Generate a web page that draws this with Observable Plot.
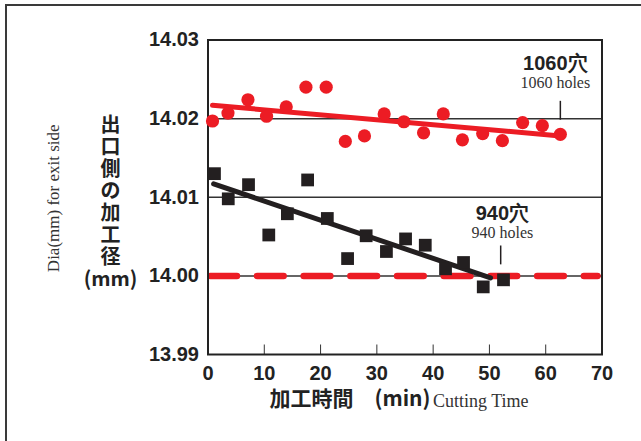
<!DOCTYPE html>
<html>
<head>
<meta charset="utf-8">
<script src="https://cdn.jsdelivr.net/npm/d3@7"></script>
<script src="https://cdn.jsdelivr.net/npm/@observablehq/plot@0.6"></script>
<style>
  html, body { margin: 0; padding: 0; background: #fff; }
  #wrap { position: relative; width: 641px; height: 441px; overflow: hidden; }
  #border { position: absolute; left: 5px; top: 4px; width: 700px; height: 500px;
            border-left: 2px solid #3a3a3a; border-top: 2px solid #3a3a3a; }
  #chart { position: absolute; left: 0; top: 0; }
</style>
</head>
<body>
<div id="wrap"><div id="border"></div><div id="chart"></div></div>
<script>
// ---- data ----
const red1060Time = [0.8, 3.55, 7.1, 10.4, 13.9, 17.4, 21.0, 24.4, 27.8, 31.3, 34.8, 38.3, 41.8, 45.2, 48.8, 52.3, 55.9, 59.4, 62.6];
const red1060Dia  = [14.0197, 14.0207, 14.0224, 14.0203, 14.0215, 14.0240, 14.0240, 14.0171, 14.0178, 14.0206, 14.0196, 14.0182, 14.0206, 14.0173, 14.0181, 14.0172, 14.0195, 14.0191, 14.0180];

const black940Time = [1.15, 3.6, 7.2, 10.8, 14.1, 17.7, 21.2, 24.8, 28.1, 31.7, 35.1, 38.6, 42.2, 45.4, 48.9, 52.5];
const black940Dia  = [14.0130, 14.0098, 14.0116, 14.0052, 14.0079, 14.0122, 14.0073, 14.0022, 14.0051, 14.0031, 14.0047, 14.0039, 14.0009, 14.0017, 13.9986, 13.9995];

const redTrendTime = [0.8, 62.6];
const redTrendDia  = [14.0217, 14.0178];
const blackTrendTime = [1.0, 50.2];
const blackTrendDia  = [14.0117, 13.99975];

const targetTime = [0.4, 69.2];
const targetDia  = [14.00, 14.00];

const xTicks = [0, 10, 20, 30, 40, 50, 60, 70];
const xInnerTicks = [10, 20, 30, 40, 50, 60];
const yTicks = [13.99, 14.00, 14.01, 14.02, 14.03];
const gridLines = [14.00, 14.01, 14.02];

const annoLabel   = ["1060穴", "940穴"];
const annoSub     = ["1060 holes", "940 holes"];
const annoX       = [61.7, 52.3];
const annoLabelY  = [14.0270, 14.0079];
const annoSubY    = [14.0245, 14.0055];
const annoTickX   = [62.6, 52.0];
const annoTickY1  = [14.0222, 14.0038];
const annoTickY2  = [14.0198, 14.0014];

const yTitleJa = "出\n口\n側\nの\n加\n工\n径\n(mm)";
const yTitleEn = "Dia(mm) for exit side";
const xTitleJa = "加工時間\u3000(min)";
const xTitleEn = "Cutting Time";

// ---- tables built from the arrays ----
const red = red1060Time.map((t, i) => ({time: t, dia: red1060Dia[i]}));
const black = black940Time.map((t, i) => ({time: t, dia: black940Dia[i]}));
const redTrend = redTrendTime.map((t, i) => ({time: t, dia: redTrendDia[i]}));
const blackTrend = blackTrendTime.map((t, i) => ({time: t, dia: blackTrendDia[i]}));
const target = targetTime.map((t, i) => ({time: t, dia: targetDia[i]}));
const annos = annoLabel.map((l, i) => ({label: l, sub: annoSub[i], x: annoX[i], ly: annoLabelY[i], sy: annoSubY[i],
  tx: annoTickX[i], ty1: annoTickY1[i], ty2: annoTickY2[i]}));

const RED = "#ec1c24";
const BLK = "#231f20";
const SANS = "'Liberation Sans', Arial, sans-serif";
const SERIF = "'Liberation Serif', 'Times New Roman', serif";
const CJK = "'Noto Sans CJK JP', sans-serif";

const chart = Plot.plot({
  width: 641,
  height: 441,
  marginLeft: 207.5,
  marginRight: 39.5,
  marginTop: 39.5,
  marginBottom: 87,
  style: {background: "transparent", color: "#222", fontFamily: SANS},
  x: {domain: [0, 70]},
  y: {domain: [13.99, 14.03]},
  marks: [
    Plot.ruleY(gridLines, {stroke: "#333", strokeWidth: 1.5}),
    Plot.line(target, {x: "time", y: "dia", stroke: RED, strokeWidth: 6.5, strokeDasharray: "26.7,20"}),
    Plot.ruleX(xInnerTicks, {stroke: "#333", strokeWidth: 1, insetTop: 305}),
    Plot.frame({stroke: "#222", strokeWidth: 2}),
    Plot.axisY({ticks: yTicks, tickFormat: d => d.toFixed(2), tickSize: 0, tickPadding: 9,
      fontSize: 20, fontWeight: "bold", fill: "#222", label: null}),
    Plot.axisX({ticks: xTicks, tickFormat: d => String(d), tickSize: 0, tickPadding: 11,
      fontSize: 20, fontWeight: "bold", fill: "#222", label: null}),
    Plot.line(redTrend, {x: "time", y: "dia", stroke: RED, strokeWidth: 5}),
    Plot.line(blackTrend, {x: "time", y: "dia", stroke: BLK, strokeWidth: 5}),
    Plot.dot(red, {x: "time", y: "dia", r: 6.6, fill: RED, stroke: "none"}),
    Plot.dot(black, {x: "time", y: "dia", r: 7.2, symbol: "square", fill: BLK, stroke: "none"}),
    // annotations
    Plot.ruleX(annos, {x: "tx", y1: "ty1", y2: "ty2", stroke: BLK, strokeWidth: 1.5}),
    Plot.text(annos, {x: "x", y: "ly", text: "label", fontSize: 20, fontWeight: "bold", fill: "#222", fontFamily: SANS}),
    Plot.text(annos, {x: "x", y: "sy", text: "sub", fontSize: 16, fill: "#333", fontFamily: SERIF}),
    // axis titles
    Plot.text([yTitleJa], {text: d => d, frameAnchor: "left", textAnchor: "middle", dx: -97.5, dy: 5,
      fontSize: 20, lineHeight: 1.1, fontWeight: "bold", fill: "#222", fontFamily: CJK}),
    Plot.text([yTitleEn], {text: d => d, frameAnchor: "left", textAnchor: "middle", dx: -154.5, dy: 1, rotate: -90,
      fontSize: 17, fill: "#333", fontFamily: SERIF}),
    Plot.text([xTitleJa], {text: d => d, frameAnchor: "bottom", dx: 25.5, dy: 51, textAnchor: "end", fontSize: 21,
      fontWeight: "bold", fill: "#222", fontFamily: CJK}),
    Plot.text([xTitleEn], {text: d => d, frameAnchor: "bottom", dx: 28, dy: 52, textAnchor: "start", fontSize: 18,
      fill: "#333", fontFamily: SERIF})
  ]
});
document.getElementById("chart").appendChild(chart);
</script>
</body>
</html>
